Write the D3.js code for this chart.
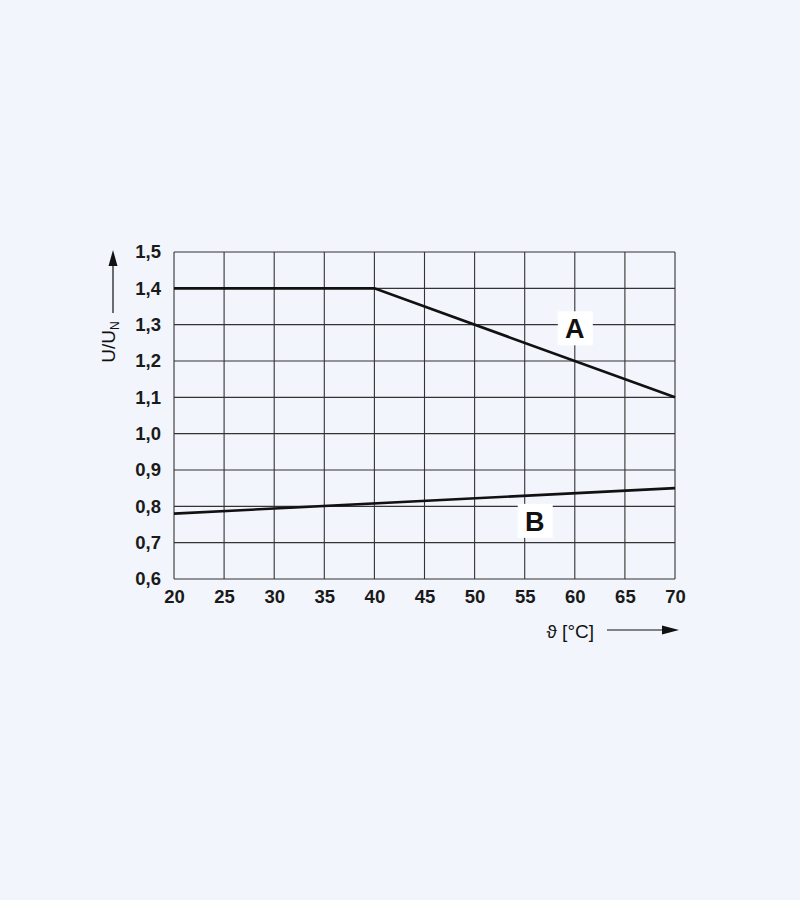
<!DOCTYPE html>
<html>
<head>
<meta charset="utf-8">
<script src="https://cdn.jsdelivr.net/npm/d3@7"></script>
<style>
  body { margin: 0; background: #f2f5fc; }
  svg { display: block; font-family: "Liberation Sans", Arial, sans-serif; }
</style>
</head>
<body>
<svg id="chart" width="800" height="900"></svg>
<script>
// derating curves, U/UN vs ambient temperature
const xTicks = [20, 25, 30, 35, 40, 45, 50, 55, 60, 65, 70]
const yTicks = [0.6, 0.7, 0.8, 0.9, 1.0, 1.1, 1.2, 1.3, 1.4, 1.5]
const curveA = [[20, 1.4], [40, 1.4], [70, 1.1]]
const curveB = [[20, 0.78], [70, 0.85]]
const labels = [
  {name: 'A', x: 60, y: 1.29},
  {name: 'B', x: 56, y: 0.76}
]

const svg = d3.select('#chart')
const plot = {left: 174, right: 675, top: 252, bottom: 579}

const x = d3.scaleLinear().domain([20, 70]).range([plot.left, plot.right])
const y = d3.scaleLinear().domain([0.6, 1.5]).range([plot.bottom, plot.top])

const fmt = d => d3.format('.1f')(d).replace('.', ',')

// grid
const grid = svg.append('g').attr('stroke', '#333').attr('stroke-width', 1.1)
grid.selectAll('.vx').data(xTicks).enter().append('line')
  .attr('x1', d => x(d)).attr('x2', d => x(d))
  .attr('y1', plot.top).attr('y2', plot.bottom)
grid.selectAll('.hy').data(yTicks).enter().append('line')
  .attr('x1', plot.left).attr('x2', plot.right)
  .attr('y1', d => y(d)).attr('y2', d => y(d))

// axes (text only)
const xAxis = svg.append('g')
  .attr('transform', 'translate(0,' + plot.bottom + ')')
  .call(d3.axisBottom(x).tickValues(xTicks).tickSize(0).tickPadding(11))
const yAxis = svg.append('g')
  .attr('transform', 'translate(' + plot.left + ',0)')
  .call(d3.axisLeft(y).tickValues(yTicks).tickFormat(fmt).tickSize(0).tickPadding(13))
;[xAxis, yAxis].forEach(a => {
  a.select('.domain').remove()
  a.selectAll('text')
    .attr('fill', '#1a1a1a')
    .style('font-size', '18.5px')
    .style('font-weight', 'bold')
    .style('font-family', '"Liberation Sans", Arial, sans-serif')
})

// curves
const line = d3.line().x(d => x(d[0])).y(d => y(d[1]))
;[curveA, curveB].forEach(c => {
  svg.append('path')
    .attr('d', line(c))
    .attr('fill', 'none')
    .attr('stroke', '#111')
    .attr('stroke-width', 2.6)
})

// curve labels
labels.forEach(l => {
  const g = svg.append('g').attr('transform', 'translate(' + x(l.x) + ',' + y(l.y) + ')')
  g.append('rect').attr('x', -17).attr('y', -17).attr('width', 35).attr('height', 34).attr('fill', '#fff')
  g.append('text').text(l.name)
    .attr('text-anchor', 'middle').attr('dy', '0.36em')
    .style('font-size', '27px').style('font-weight', 'bold').attr('fill', '#111')
})

// arrows
svg.append('line')
  .attr('x1', 113).attr('y1', 313).attr('x2', 113).attr('y2', 255)
  .attr('stroke', '#111').attr('stroke-width', 1.2)
svg.append('path').attr('d', 'M113,250L108.5,266L117.5,266Z').attr('fill', '#111')

svg.append('line')
  .attr('x1', 607).attr('y1', 630).attr('x2', 672).attr('y2', 630)
  .attr('stroke', '#111').attr('stroke-width', 1.2)
svg.append('path').attr('d', 'M679,630L662,625.5L662,634.5Z').attr('fill', '#111')

// axis titles
const yt = svg.append('text')
  .attr('transform', 'translate(108,342) rotate(-90)')
  .attr('text-anchor', 'middle')
  .attr('dy', '0.35em')
  .style('font-size', '19px').attr('fill', '#111')
yt.append('tspan').text('U/U')
yt.append('tspan').text('N').attr('dy', '4').style('font-size', '12px')

svg.append('text')
  .attr('x', 594).attr('y', 631)
  .attr('text-anchor', 'end').attr('dy', '0.35em')
  .style('font-size', '19px').attr('fill', '#111')
  .text('ϑ [°C]')
</script>
</body>
</html>
